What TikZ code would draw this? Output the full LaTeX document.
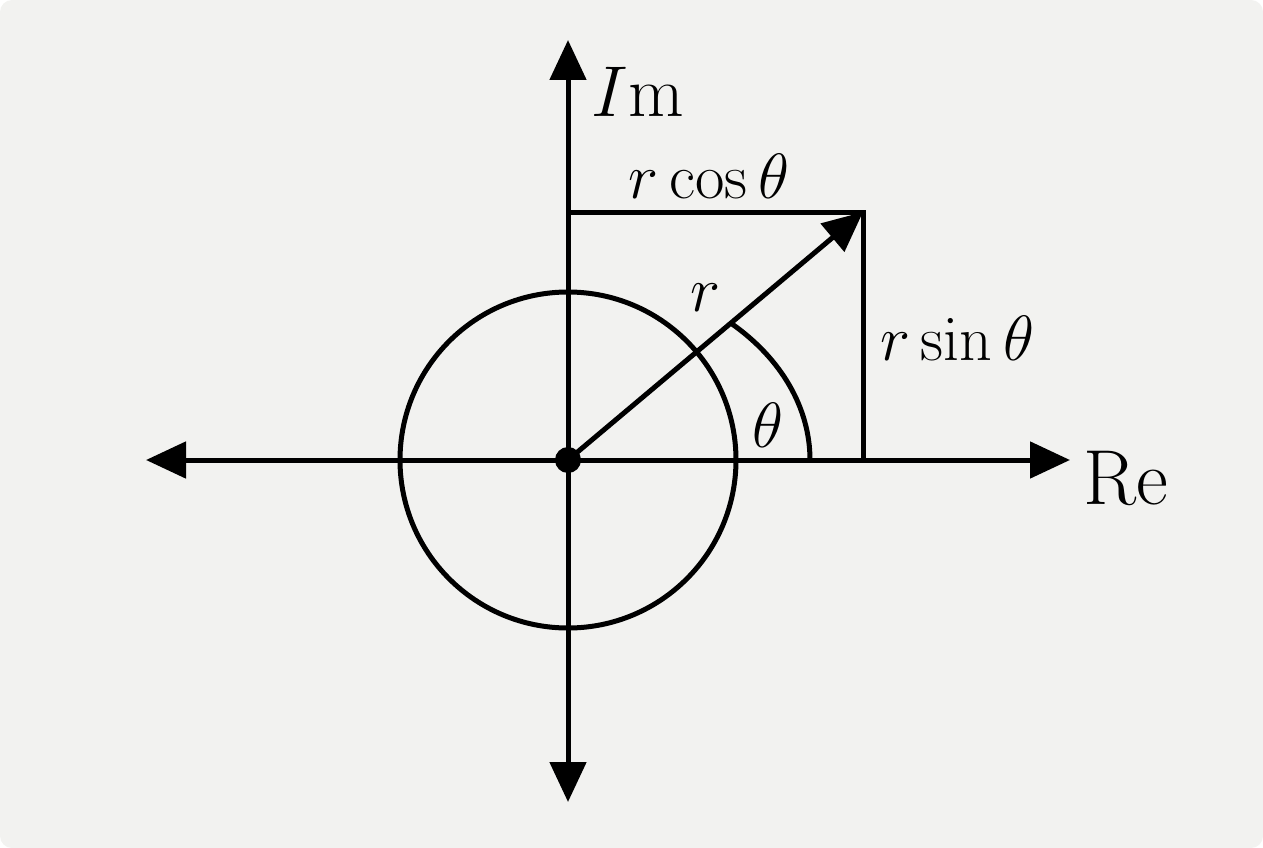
\documentclass[tikz,border=0pt]{standalone}
\usepackage{fix-cm}
\usetikzlibrary{arrows.meta}
\begin{document}
\begin{tikzpicture}[x=1pt,y=-1pt,
  ln/.style={line width=5pt,black},
  ar/.style={ln,-{Triangle[length=40pt,width=36pt]}},
  lbl/.style={font=\fontsize{64}{72}\selectfont}]
\fill[rounded corners=12pt,fill={rgb,255:red,242;green,242;blue,240}] (0,0) rectangle (1263,848);
\useasboundingbox (0,0) rectangle (1263,848);
\coordinate (O) at (568,460);
\coordinate (P) at (863,212);
\coordinate (T) at (568,212);
\coordinate (B) at (863,460);
\coordinate (reR) at (1070,460);
\coordinate (reL) at (146,460);
\coordinate (imT) at (568,40);
\coordinate (imB) at (568,802);
\draw[ar] (O) -- (reR);
\draw[ar] (O) -- (reL);
\draw[ar] (O) -- (imT);
\draw[ar] (O) -- (imB);
\draw[ln] (O) circle (168);
\draw[ln] (T) -- (P) -- (B);
\draw[ln] (810,460) arc[start angle=0,end angle=-47.5,x radius=242,y radius=185];
\draw[ar] (O) -- (P);
\fill (O) circle (13);
\node[lbl,font=\fontsize{72}{80}\selectfont] (im) at (638,92) {$I$m};
\node[lbl,font=\fontsize{78}{86}\selectfont] (re) at (1126,478) {Re};
\node[lbl] (rc) at (709,176) {$r\cos\theta$};
\node[lbl] (rs) at (957,338) {$r\sin\theta$};
\node[lbl] (r) at (705,298) {$r$};
\node[lbl] (th) at (768,425) {$\theta$};
\end{tikzpicture}
\end{document}
